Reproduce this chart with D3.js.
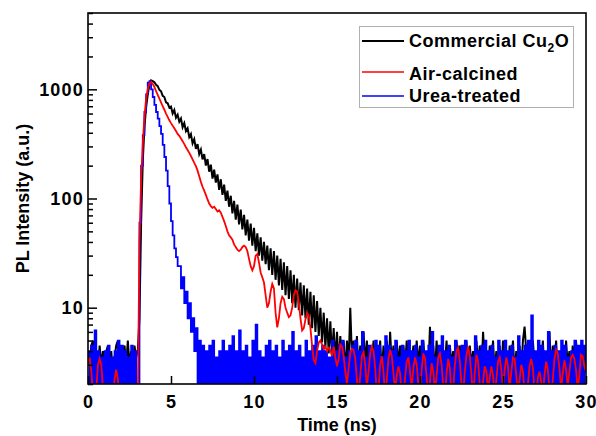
<!DOCTYPE html>
<html>
<head>
<meta charset="utf-8">
<script src="https://cdn.jsdelivr.net/npm/d3@7"></script>
<style>
  body { margin: 0; background: #fff; }
  svg { display: block; font-family: Arial, "Liberation Sans", sans-serif; font-weight: bold; }
</style>
</head>
<body>
<div id="chart"></div>
<script>
// time grid: one channel every 0.1 ns, 0 .. 30 ns
var dt = 0.1;
var xTicks = [0, 5, 10, 15, 20, 25, 30];
var yTicks = [10, 100, 1000];
var yMinor = [2, 3, 4, 5, 6, 7, 8, 9, 20, 30, 40, 50, 60, 70, 80, 90,
              200, 300, 400, 500, 600, 700, 800, 900, 2000, 3000, 4000, 5000];

var seriesNames = ["Commercial Cu2O", "Air-calcined", "Urea-treated"];

var commercial = [
  4, 3, 4.5, 5, 3, 4, 2.5, 4.5, 3, 4,
  3, 4, 4.5, 3, 4, 2.5, 3.5, 4.5, 5, 4,
  3, 4, 4.5, 3, 5, 3, 4, 2.5, 4.5, 3.5,
  4, 8, 60, 220, 450, 680, 900, 1090, 1210, 1190,
  1160, 1100, 1070, 990, 960, 870, 850, 760, 745, 680,
  695, 600, 645, 550, 585, 505, 540, 450, 490, 415,
  440, 365, 390, 320, 350, 285, 315, 255, 280, 228,
  255, 200, 230, 176, 204, 152, 184, 140, 166, 120,
  150, 108, 134, 95, 118, 84, 106, 73, 95, 64,
  88, 58, 79, 52, 71, 46, 64, 41, 59, 37,
  54, 33, 48, 30, 44, 27, 40, 25, 37, 22,
  35, 20, 33, 18, 30, 16, 28, 14.5, 26, 13,
  24, 12, 22, 11, 20, 10, 18.5, 9.5, 17, 8.5,
  16, 8, 15, 7, 14, 6.5, 13, 6, 11.5, 5.5,
  10, 4.8, 9, 4.3, 8, 3.8, 7.5, 3.5, 6.5, 3.2,
  6, 3, 5.5, 3, 5, 2.5, 5, 3, 10, 3.5,
  5, 3, 5.5, 2.5, 4.5, 3, 6, 3, 5, 2.5,
  4.5, 3, 5, 2.5, 4.5, 3, 5, 2.5, 4.5, 3,
  5, 2.5, 6, 3, 4.5, 2.5, 5, 3, 4.5, 2.5,
  4.5, 3, 5, 2.5, 4, 3, 4.5, 2.5, 5, 3,
  4.5, 2.5, 5, 3, 4, 2.5, 6.7, 3, 4.5, 2.5,
  5, 3, 4.5, 2.5, 4, 3, 5, 2.5, 4.5, 3,
  4, 2.5, 5, 3, 4.5, 2.5, 4, 3, 5, 2.5,
  4.5, 3, 4, 2.5, 5, 3, 4.5, 2.5, 6, 3,
  4, 2.5, 4.5, 3, 5, 2.5, 4, 3, 4.5, 2.5,
  5, 3, 4, 2.5, 4.5, 3, 5, 2.5, 4, 3,
  4.5, 2.5, 5, 6.7, 4, 3, 4.5, 2.5, 5, 3,
  4, 2.5, 4.5, 3, 5, 2.5, 4, 3, 6, 2.5,
  4.5, 3, 5, 2.5, 4, 3, 4.5, 2.5, 5, 3,
  4, 2.5, 4.5, 3, 5, 2.5, 4, 3, 4.5, 2.5,
  4
];

var airCalcined = [
  3.3, 3.4, 2.6, 1.6, 1.2, 1.8, 3.0, 3.4, 3.0, 1.8,
  1.2, 1.0, 1.1, 1.3, 1.2, 1.5, 2.2, 2.7, 2.2, 1.4,
  1.0, 1.1, 1.3, 1.0, 1.2, 1.4, 1.1, 1.0, 1.2, 1.3,
  1.3, 40, 150, 320, 560, 820, 1000, 1130, 1170, 1120,
  1050, 960, 890, 820, 760, 700, 650, 600, 560, 520,
  490, 465, 440, 415, 390, 375, 355, 335, 315, 295,
  278, 262, 245, 228, 212, 198, 180, 160, 142, 128,
  118, 108, 98, 90, 85, 82, 84, 80, 76, 78,
  74, 68, 62, 56, 50, 46, 44, 42, 38, 36,
  34, 33, 34, 36, 37, 36, 33, 28, 24, 22,
  24, 30, 31, 26, 21, 19, 17, 13, 10, 11,
  14, 16.5, 15, 9, 6.6, 8, 11, 12.6, 12, 10,
  9, 8.2, 8.5, 10, 13, 14.5, 14, 11, 8, 6.2,
  6.5, 7.8, 8.9, 8.5, 6.5, 4.5, 3.3, 3.1, 4.0, 4.8,
  5.0, 4.6, 4.2, 4.4, 4.0, 4.3, 4.1, 3.6, 4.4, 3.5,
  2.9, 3.4, 4.6, 4.4, 3.6, 2.6, 2.0, 2.8, 3.8, 4.2,
  4.1, 3.4, 2.2, 1.5, 2.4, 3.6, 3.9, 3.0, 1.9, 2.6,
  3.8, 4.4, 4.0, 2.8, 1.6, 1.8, 3.0, 3.6, 2.6, 1.5,
  2.2, 3.4, 4.1, 3.6, 2.5, 1.7, 2.4, 2.9, 2.5, 1.6,
  1.4, 2.3, 3.2, 3.5, 2.6, 1.8, 2.8, 3.5, 3.0, 2.0,
  1.6, 2.7, 3.8, 3.4, 2.3, 1.5, 2.1, 3.1, 2.6, 1.7,
  2.4, 3.5, 3.8, 3.0, 1.9, 1.4, 2.5, 3.4, 2.8, 1.6,
  1.8, 3.0, 4.0, 4.3, 3.2, 2.0, 1.6, 2.6, 3.7, 4.4,
  3.6, 2.4, 1.5, 2.5, 3.7, 3.2, 2.0, 1.4, 2.1, 2.9,
  2.6, 1.7, 2.3, 2.9, 2.4, 1.5, 2.2, 3.2, 3.5, 2.7,
  1.8, 2.7, 3.5, 2.9, 1.8, 2.6, 3.5, 3.4, 2.4, 1.6,
  2.2, 3.0, 2.6, 1.7, 1.4, 2.0, 2.9, 3.4, 2.8, 1.7,
  1.5, 2.3, 2.6, 2.1, 1.6, 2.4, 3.2, 2.7, 1.8, 1.5,
  2.2, 3.4, 4.1, 3.8, 2.8, 1.8, 2.5, 3.3, 2.7, 1.9,
  2.6, 3.5, 3.7, 3.4, 2.7, 1.8, 2.4, 3.7, 3.6, 2.9,
  2.6
];

var ureaTreated = [
  4, 1, 4.5, 1, 6.2, 1, 4, 1, 3.5, 1,
  4, 1, 4.5, 1, 3.5, 1, 4, 1, 5, 1,
  4.5, 1, 4, 1, 3.5, 1, 4.5, 1, 4, 1,
  1.5, 60, 200, 380, 620, 900, 1150, 1190, 1000, 850,
  720, 620, 540, 460, 390, 310, 240, 180, 130, 90,
  62, 46, 35, 29, 24, 24, 15, 19, 11, 14,
  8, 11, 6, 8, 4, 6.5, 1.8, 5, 1, 4.5,
  1, 4, 1, 4.5, 1, 5, 1, 3.5, 1, 4,
  1, 5, 1, 4, 1, 4.5, 1, 5.5, 1, 4,
  1, 6.2, 1, 4, 1, 4.5, 1, 3.5, 1, 5,
  1, 7, 1, 4, 1, 3.5, 1, 4.5, 1, 5,
  1, 4, 1, 4.5, 1, 3.5, 1, 5, 1, 4,
  1, 4.5, 1, 6, 1, 4, 1, 4.5, 1, 3.5,
  1, 5, 1, 4, 1, 4.5, 1, 5.5, 1, 4,
  1, 4.5, 1, 4, 1, 3.5, 1, 5, 1, 4,
  1, 4.5, 1, 5, 1, 3.5, 1, 4, 1, 4.5,
  1, 5, 1, 4, 1, 6, 1, 3.5, 1, 4.5,
  1, 4, 1, 5, 1, 4.5, 1, 3.5, 1, 5.5,
  1, 4.5, 1, 4, 1, 5, 1, 3.5, 1, 4.5,
  1, 4, 1, 5, 1, 4, 1, 4.5, 1, 3.5,
  1, 5, 1, 4, 1, 4.5, 1, 6, 1, 3.5,
  1, 4.5, 1, 5.5, 1, 4, 1, 4.5, 1, 3.5,
  1, 5, 1, 4, 1, 4.5, 1, 5, 1, 4,
  1, 3.5, 1, 5.5, 1, 4, 1, 4.5, 1, 5,
  1, 4, 1, 4.5, 1, 3.5, 1, 5, 1, 4,
  1, 5, 1, 4, 1, 4.5, 1, 3.5, 1, 5.5,
  1, 4, 1, 4.5, 1, 5, 1, 8.5, 1, 4,
  1, 5, 1, 4.5, 1, 4, 1, 6, 1, 4,
  1, 4.5, 1, 4, 1, 5, 1, 4.5, 1, 3.5,
  1, 4, 1, 5, 1, 4.5, 1, 5, 1, 4.5,
  4
];

var width = 596, height = 436;
var plot = { left: 88, right: 586, top: 13, bottom: 384 };

var svg = d3.select("#chart").append("svg")
    .attr("width", width)
    .attr("height", height);

var x = d3.scaleLinear().domain([0, 30]).range([plot.left, plot.right]);
var y = d3.scaleLog().domain([2, 5000]).range([plot.bottom, plot.top]);

svg.append("clipPath").attr("id", "clip")
  .append("rect")
    .attr("x", plot.left).attr("y", plot.top)
    .attr("width", plot.right - plot.left)
    .attr("height", plot.bottom - plot.top);

// the noisy urea trace is drawn as channel steps so its floor fills in
var series = [
  { values: commercial, color: "#000000", width: 2, curve: d3.curveLinear },
  { values: ureaTreated, color: "#0000ff", width: 1.8, curve: d3.curveStepAfter },
  { values: airCalcined, color: "#ff0000", width: 1.8, curve: d3.curveLinear }
];

svg.append("g").attr("clip-path", "url(#clip)")
  .selectAll("path")
  .data(series)
  .enter().append("path")
    .attr("fill", "none")
    .attr("stroke", function (d) { return d.color; })
    .attr("stroke-width", function (d) { return d.width; })
    .attr("d", function (d) {
      return d3.line()
        .curve(d.curve)
        .x(function (v, i) { return x(i * dt); })
        .y(function (v) { return y(v); })(d.values);
    });

// axes, ticks point inward
var xAxis = d3.axisBottom(x).tickValues(xTicks).tickSizeInner(-8).tickSizeOuter(0).tickPadding(11);
var yAxis = d3.axisLeft(y).tickValues(yTicks).tickSizeInner(-9).tickSizeOuter(0).tickPadding(4)
    .tickFormat(d3.format("d"));
var yAxisMinor = d3.axisLeft(y).tickValues(yMinor).tickSizeInner(-5).tickSizeOuter(0).tickFormat("");

var gx = svg.append("g")
    .attr("transform", "translate(0," + plot.bottom + ")")
    .call(xAxis);
var gy = svg.append("g")
    .attr("transform", "translate(" + plot.left + ",0)")
    .call(yAxis);
var gym = svg.append("g")
    .attr("transform", "translate(" + plot.left + ",0)")
    .call(yAxisMinor);

[gx, gy, gym].forEach(function (g) {
  g.select(".domain").remove();
  g.selectAll("line").attr("stroke", "#000").attr("stroke-width", 1.5);
  g.selectAll("text")
    .attr("fill", "#000")
    .style("font-size", "18px")
    .style("font-weight", "bold")
    .style("letter-spacing", "1.2px")
    .style("font-family", "Arial, 'Liberation Sans', sans-serif");
});

svg.append("rect")
    .attr("x", plot.left).attr("y", plot.top)
    .attr("width", plot.right - plot.left)
    .attr("height", plot.bottom - plot.top)
    .attr("fill", "none")
    .attr("stroke", "#000")
    .attr("stroke-width", 1.6);

// axis titles
svg.append("text")
    .attr("x", (plot.left + plot.right) / 2)
    .attr("y", 431)
    .attr("text-anchor", "middle")
    .style("font-size", "18px")
    .text("Time (ns)");

svg.append("text")
    .attr("transform", "translate(29," + (plot.top + plot.bottom) / 2 + ") rotate(-90)")
    .attr("text-anchor", "middle")
    .style("font-size", "18px")
    .text("PL Intensity (a.u.)");

// legend
var legend = svg.append("g");
legend.append("rect")
    .attr("x", 359.5).attr("y", 26.5)
    .attr("width", 214).attr("height", 81)
    .attr("fill", "#fff")
    .attr("stroke", "#b0b0b0")
    .attr("stroke-width", 1);

var legendRows = [
  { color: "#000000", width: 2, lineY: 41, textY: 47 },
  { color: "#ff0000", width: 1.5, lineY: 72, textY: 79.5 },
  { color: "#0000ff", width: 1.5, lineY: 96, textY: 102 }
];

legendRows.forEach(function (r, i) {
  legend.append("line")
      .attr("x1", 362).attr("x2", 404)
      .attr("y1", r.lineY).attr("y2", r.lineY)
      .attr("stroke", r.color)
      .attr("stroke-width", r.width);
  var t = legend.append("text")
      .attr("x", 409).attr("y", r.textY)
      .style("font-size", "18px")
      .style("letter-spacing", "0.5px");
  if (i === 0) {
    t.append("tspan").text("Commercial Cu");
    t.append("tspan").attr("dy", 5).style("font-size", "12px").text("2");
    t.append("tspan").attr("dy", -5).text("O");
  } else {
    t.text(seriesNames[i]);
  }
});
</script>
</body>
</html>
